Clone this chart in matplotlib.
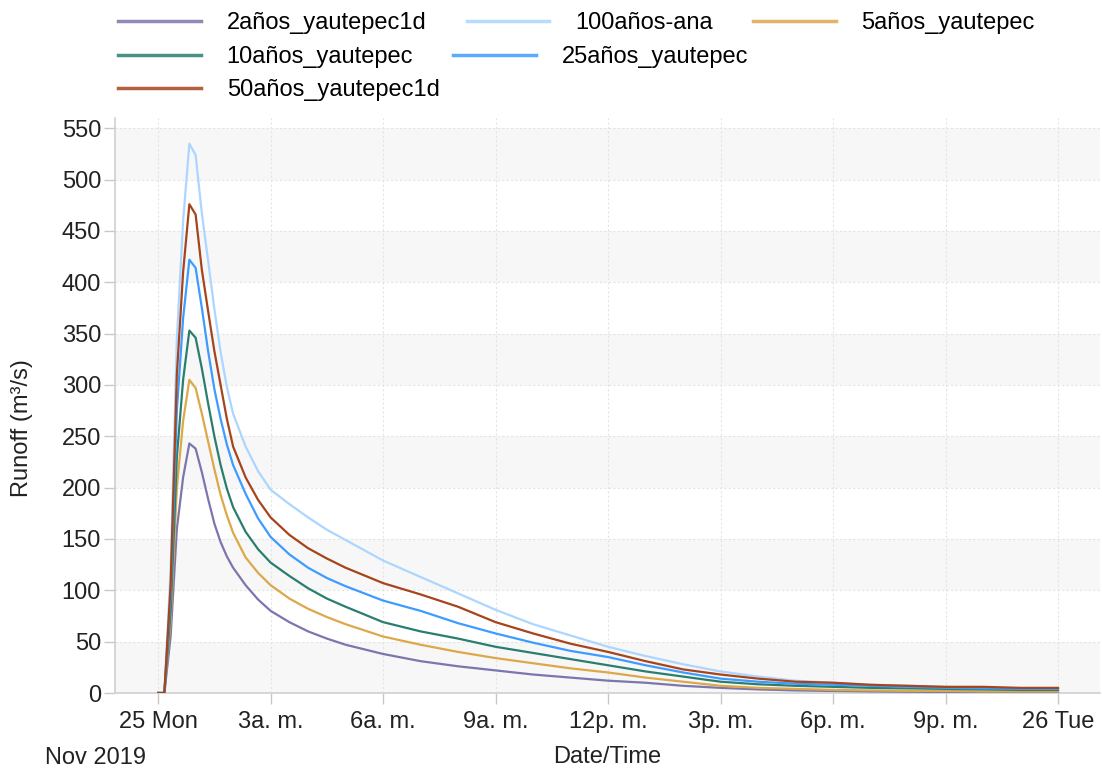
import matplotlib.pyplot as plt
import matplotlib.dates as mdates
from matplotlib.ticker import FuncFormatter
import pandas as pd

plt.rcParams['font.family'] = ['Liberation Sans', 'DejaVu Sans']

# minutes after 25 Nov 2019 00:00
minutes = [0, 10, 20, 30, 40, 50, 60, 70, 80, 90, 100, 110, 120, 140, 160, 180,
           210, 240, 270, 300, 360, 420, 480, 540, 600, 660, 720, 780, 840, 900,
           960, 1020, 1080, 1140, 1200, 1260, 1320, 1380, 1440]

# runoff (m3/s) per return period
q_2 = [0, 0, 55, 160, 210, 243, 238, 215, 189, 165, 147, 133, 122, 105, 91, 80,
       69, 60, 53, 47, 38, 31, 26, 22, 18, 15, 12, 10, 7, 5,
       3.5, 2.5, 2, 1.5, 1.2, 1, 1, 1, 1]
q_100 = [0, 0, 120, 345, 460, 535, 524, 467, 421, 374, 332, 298, 272, 240, 216, 198,
         184, 171, 159, 149, 129, 113, 97, 81, 67, 56, 45, 36, 28, 21,
         16, 12, 10, 8, 7, 6, 5, 4.5, 4]
q_5 = [0, 0, 70, 200, 265, 305, 297, 272, 245, 218, 193, 173, 156, 132, 117, 105,
       92, 82, 74, 67, 55, 47, 40, 34, 29, 24, 20, 15, 11, 7,
       5, 4, 3, 2.5, 2, 2, 1.5, 1.5, 1.5]
q_10 = [0, 0, 80, 230, 305, 353, 346, 316, 282, 250, 222, 199, 181, 157, 140, 127,
        114, 102, 92, 84, 69, 60, 53, 45, 39, 33, 27, 21, 16, 11,
        8.5, 7, 6, 5, 4.5, 4, 3.5, 3, 3]
q_25 = [0, 0, 95, 275, 365, 422, 414, 375, 333, 296, 267, 242, 222, 194, 170, 152,
        135, 122, 112, 104, 90, 80, 68, 58, 49, 41, 35, 27, 20, 14,
        11, 9, 8, 7, 6, 5, 4.5, 4, 4]
q_50 = [0, 0, 105, 310, 410, 476, 466, 412, 372, 333, 300, 267, 240, 210, 188, 171,
        154, 141, 131, 122, 107, 96, 84, 69, 58, 48, 40, 31, 23, 18,
        14, 11, 10, 8, 7, 6, 6, 5, 5]

names = ['2años_yautepec1d', '100años-ana', '5años_yautepec',
         '10años_yautepec', '25años_yautepec', '50años_yautepec1d']
values = [q_2, q_100, q_5, q_10, q_25, q_50]
colors = ['#7b76ad', '#acd6ff', '#dca84a', '#2a7e6f', '#3d9cff', '#a6441b']

start = pd.Timestamp('2019-11-25 00:00')
times = (start + pd.to_timedelta(minutes, unit='min')).to_pydatetime()

fig = plt.figure(figsize=(11.02, 7.70), dpi=100)
ax = fig.add_axes([115 / 1102, 77 / 770, 985 / 1102, 575 / 770])

# alternating horizontal bands
for lo in range(0, 550, 100):
    ax.axhspan(lo, lo + 50, color='#f7f7f7', zorder=0, lw=0)

lines = []
for name, q, c in zip(names, values, colors):
    ln, = ax.plot(times, q, color=c, lw=1.6, label=name, zorder=3)
    lines.append(ln)

ax.set_xlim(start - pd.Timedelta(hours=1.15), start + pd.Timedelta(hours=25.12))
ax.set_ylim(0, 560)
ax.set_yticks(range(0, 551, 50))


def hour_label(x, pos):
    d = mdates.num2date(x)
    if d.hour == 0:
        return d.strftime('%d %a')
    h = d.hour % 12 or 12
    return f"{h}{'a' if d.hour < 12 else 'p'}. m."


ax.xaxis.set_major_locator(mdates.HourLocator(byhour=range(0, 24, 3)))
ax.xaxis.set_major_formatter(FuncFormatter(hour_label))

ax.grid(True, color='#e4e4e4', linestyle=(0, (2, 2)), linewidth=0.8, zorder=1)
ax.set_axisbelow(True)
for s in ['top', 'right']:
    ax.spines[s].set_visible(False)
for s in ['left', 'bottom']:
    ax.spines[s].set_color('#d0d0d0')
    ax.spines[s].set_linewidth(1.2)

ax.tick_params(axis='both', colors='#c8c8c8', labelcolor='#222222',
               labelsize=17, length=8, width=1)
ax.tick_params(axis='x', pad=5)
ax.tick_params(axis='y', pad=2)

ax.set_xlabel('Date/Time', fontsize=17, color='#222222', labelpad=9)
ax.set_ylabel('Runoff (m³/s)', fontsize=17, color='#222222')
ax.yaxis.set_label_coords(-0.083, 0.46)
fig.text(45 / 1102, 1 - 758 / 770, 'Nov 2019', fontsize=17, color='#222222',
         ha='left', va='center')

# legend laid out row by row
rows = [[0, 1, 2], [3, 4], [5]]
row_y = [23, 57, 90]
for r, y in zip(rows, row_y):
    leg = fig.legend([lines[i] for i in r], [names[i] for i in r],
                     loc='center left', bbox_to_anchor=(118 / 1102, 1 - y / 770),
                     ncol=len(r), frameon=False, fontsize=17,
                     handlelength=3.5, handletextpad=1.1, columnspacing=1.7,
                     borderpad=0, borderaxespad=0)
    for h in leg.legend_handles:
        h.set_linewidth(2.5)
        h.set_alpha(0.85)

fig.savefig('out.png', dpi=100)
